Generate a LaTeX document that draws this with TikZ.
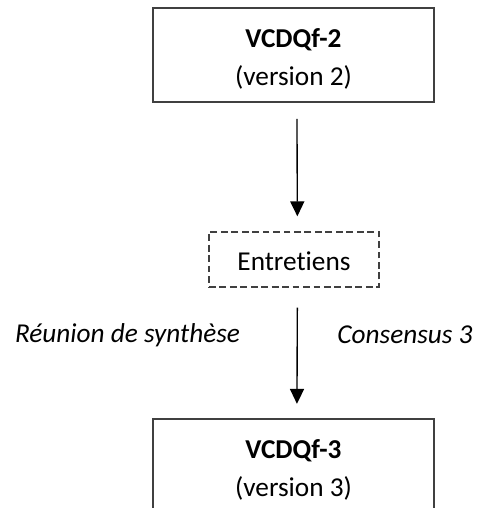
\documentclass[tikz,border=0pt]{standalone}
\usepackage{fontspec}
\setmainfont{Carlito}[Ligatures={NoCommon}]
\usetikzlibrary{arrows.meta}

\tikzset{every picture/.style={line width=0.75pt}}
\tikzset{
	boite/.style={draw={rgb, 255:red, 64; green, 64; blue, 64 }, line width=0.9pt, minimum width=123.6pt, minimum height=41.4pt, inner sep=0pt},
	boitetiret/.style={draw={rgb, 255:red, 64; green, 64; blue, 64 }, line width=0.6pt, dash pattern=on 3pt off 1.6pt, minimum width=74.8pt, minimum height=24.2pt, inner sep=0pt},
	fleche/.style={line width=0.6pt, -{Triangle[length=6.6pt,width=6.2pt]}},
	texte/.style={font=\fontsize{12}{16.7}\selectfont, align=center, inner sep=0pt}}

\begin{document}
\begin{tikzpicture}[x=0.44pt,y=0.44pt,yscale=-1,xscale=1]
	\useasboundingbox (0,0) rectangle (479,508);

	%Shape: Rectangle [id:vcdq2]
	\node [boite] (vcdq2) at (293.5,55) {};
	%Shape: Rectangle [id:entretiens]
	\node [boitetiret] (entretiens) at (294,259.5) {};
	%Shape: Rectangle [id:vcdq3]
	\node [boite] (vcdq3) at (293.5,466) {};

	%Straight Lines [id:fl1]
	\draw [fleche, shorten <=7pt, shorten >=6.6pt] ([xshift=1.5pt]vcdq2.south) -- ([xshift=1.5pt]entretiens.north);
	%Straight Lines [id:fl2]
	\draw [fleche, shorten <=8.8pt, shorten >=6.2pt] ([xshift=1.5pt]entretiens.south) -- ([xshift=1.5pt]vcdq3.north);

	% Text Node
	\node [texte] (t2) at (293.5,59) {\textbf{VCDQf-2}\\(version 2)};
	% Text Node
	\node [texte] (tent) at (294,261) {Entretiens};
	% Text Node
	\node [texte] (t3) at (293.5,470) {\textbf{VCDQf-3}\\(version 3)};
	% Text Node
	\node [texte] (reunion) at (127.5,335) {\textit{Réunion de synthèse}};
	% Text Node
	\node [texte] (consensus) at (405,335) {\textit{Consensus 3}};

\end{tikzpicture}
\end{document}
